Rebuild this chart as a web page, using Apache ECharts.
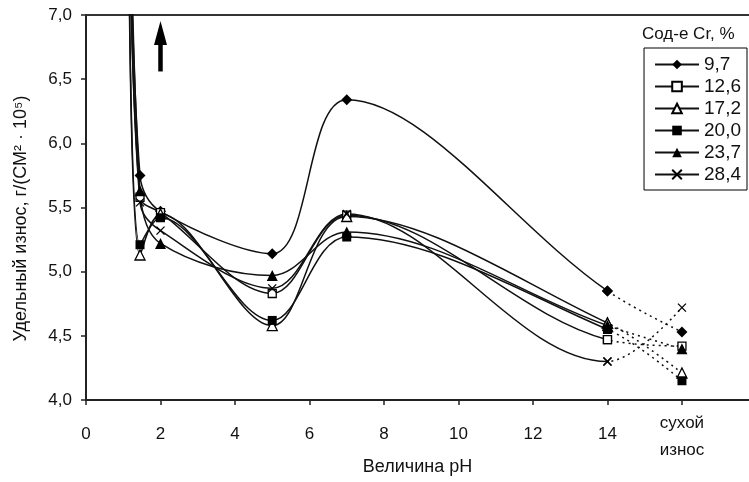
<!DOCTYPE html>
<html>
<head>
<meta charset="utf-8">
<title>Удельный износ</title>
<script src="https://cdn.jsdelivr.net/npm/echarts@6/dist/echarts.min.js"></script>
<style>
  html, body { margin: 0; padding: 0; background: #fff; }
  #chart { width: 749px; height: 482px; }
</style>
</head>
<body>
<div id="chart"></div>
<script>
// pH values; 16 stands for "сухой износ" (dry wear), first point is off the scale (arrow)
const phValues = [1.15, 1.45, 2, 5, 7, 14, 16]
const crNames = ['9,7', '12,6', '17,2', '20,0', '23,7', '28,4']
const wear97 = [8.6, 5.75, 5.47, 5.14, 6.34, 4.85, 4.53]
const wear126 = [8.3, 5.58, 5.46, 4.83, 5.44, 4.47, 4.42]
const wear172 = [7.6, 5.13, 5.45, 4.58, 5.43, 4.60, 4.21]
const wear200 = [7.8, 5.21, 5.42, 4.62, 5.27, 4.55, 4.15]
const wear237 = [9.0, 5.63, 5.22, 4.97, 5.31, 4.58, 4.40]
const wear284 = [8.2, 5.54, 5.32, 4.87, 5.45, 4.30, 4.72]
const wearData = [wear97, wear126, wear172, wear200, wear237, wear284]

const xTickValues = [0, 2, 4, 6, 8, 10, 12, 14, 16]
const xTickLabels = ['0', '2', '4', '6', '8', '10', '12', '14', 'сухой\nизнос']
const lastPh = 14 // solid lines end here, dotted after

// arrow "value goes off the scale"
const arrowPh = 2.0
const arrowFrom = 6.56
const arrowTo = 6.86

const font = '"Liberation Sans", Arial, sans-serif'
const ink = '#111'
const xMax = 17.8

const markers = [
  { symbol: 'diamond', size: 11, color: '#000' },
  { symbol: 'rect', size: 8, color: '#fff' },
  { symbol: 'triangle', size: 10, color: '#fff' },
  { symbol: 'rect', size: 9, color: '#000' },
  { symbol: 'triangle', size: 11, color: '#000' },
  { symbol: 'path://M0,0L10,10M10,0L0,10', size: 8, color: '#000' }
]

// plot area in pixels
const plotLeft = 86
const plotTop = 15
const plotBottom = 82
const plotWidth = 749 - plotLeft
const pxPerUnit = plotWidth / xMax
const splitPx = plotLeft + lastPh * pxPerUnit

const chart = echarts.init(document.getElementById('chart'))

function buildSeries(kind) {
  return crNames.map(function(name, k) {
    const m = markers[k]
    const s = {
      name: name,
      type: 'line',
      xAxisIndex: kind === 'solid' ? 1 : 2,
      yAxisIndex: kind === 'solid' ? 1 : 2,
      data: phValues.map(function(x, i) { return [x, wearData[k][i]] }),
      smooth: 0.35,
      clip: true,
      symbol: m.symbol,
      symbolSize: m.size,
      showAllSymbol: true,
      itemStyle: { color: m.color, borderColor: '#000', borderWidth: m.color === '#fff' || k === 5 ? 1.3 : 0 },
      lineStyle: { color: ink, width: 1.5, type: kind === 'solid' ? 'solid' : [2, 4] },
      emphasis: { disabled: true },
      z: kind === 'solid' ? 3 : 2
    }
    if (kind === 'solid' && k === 0) {
      s.markLine = {
        silent: true,
        symbol: ['none', 'triangle'],
        symbolSize: [13, 24],
        label: { show: false },
        lineStyle: { color: '#000', width: 4.5, type: 'solid' },
        emphasis: { disabled: true },
        data: [[{ coord: [arrowPh, arrowFrom] }, { coord: [arrowPh, arrowTo] }]]
      }
    }
    return s
  })
}

chart.setOption({
  animation: false,
  backgroundColor: '#fff',
  textStyle: { fontFamily: font, color: ink },
  title: {
    text: 'Сод-е Cr, %',
    left: 642,
    top: 26,
    padding: 0,
    textStyle: { fontSize: 17, fontWeight: 'normal', color: ink, fontFamily: font }
  },
  legend: {
    data: crNames,
    orient: 'vertical',
    right: 2,
    top: 48,
    padding: [7, 6, 6, 10],
    itemGap: 3,
    itemWidth: 44,
    itemHeight: 12,
    borderColor: '#000',
    borderWidth: 1,
    backgroundColor: '#fff',
    selectedMode: false,
    textStyle: { fontSize: 19, color: ink, fontFamily: font }
  },
  grid: [
    { left: plotLeft, right: 0, top: plotTop, bottom: plotBottom, outerBoundsMode: 'none' },
    { left: plotLeft, width: lastPh * pxPerUnit, top: plotTop, bottom: plotBottom, outerBoundsMode: 'none' },
    { left: splitPx, right: 0, top: plotTop, bottom: plotBottom, outerBoundsMode: 'none' }
  ],
  xAxis: [
    {
      gridIndex: 0,
      type: 'value',
      min: 0,
      max: xMax,
      name: 'Величина pH',
      nameLocation: 'middle',
      nameGap: 58,
      nameMoveOverlap: false,
      nameTextStyle: { fontSize: 18, color: ink, fontFamily: font },
      axisLine: { lineStyle: { color: '#222', width: 2 } },
      axisTick: { customValues: xTickValues, length: 5, lineStyle: { color: '#222', width: 1.5 } },
      axisLabel: {
        customValues: xTickValues,
        margin: 10,
        formatter: function(v) {
          const i = xTickValues.indexOf(v)
          if (i < 0) return ''
          return i === xTickValues.length - 1 ? '{dry|' + xTickLabels[i] + '}' : '{num|' + xTickLabels[i] + '}'
        },
        rich: {
          num: { fontSize: 17, lineHeight: 48, color: ink, fontFamily: font },
          dry: { fontSize: 17, lineHeight: 27, color: ink, fontFamily: font }
        }
      },
      splitLine: { show: false }
    },
    { gridIndex: 1, type: 'value', min: 0, max: lastPh, show: false },
    { gridIndex: 2, type: 'value', min: lastPh, max: xMax, show: false },
    {
      gridIndex: 0,
      type: 'value',
      position: 'top',
      min: 0,
      max: xMax,
      axisLine: { lineStyle: { color: '#333', width: 2 } },
      axisTick: { show: false },
      axisLabel: { show: false },
      splitLine: { show: false }
    }
  ],
  yAxis: [
    {
      gridIndex: 0,
      type: 'value',
      min: 4,
      max: 7,
      interval: 0.5,
      name: 'Удельный износ, г/(СМ² · 10⁵)',
      nameLocation: 'middle',
      nameGap: 56,
      nameMoveOverlap: false,
      nameTextStyle: { fontSize: 18, color: ink, fontFamily: font, padding: [0, 22, 0, 0] },
      axisLine: { show: true, lineStyle: { color: '#222', width: 2 } },
      axisTick: { show: true, length: 5, lineStyle: { color: '#222', width: 1.5 } },
      axisLabel: {
        margin: 14,
        fontSize: 17,
        color: ink,
        formatter: function(v) { return v.toFixed(1).replace('.', ',') }
      },
      splitLine: { show: false }
    },
    { gridIndex: 1, type: 'value', min: 4, max: 7, show: false },
    { gridIndex: 2, type: 'value', min: 4, max: 7, show: false }
  ],
  series: buildSeries('solid').concat(buildSeries('dotted'))
})
</script>
</body>
</html>
